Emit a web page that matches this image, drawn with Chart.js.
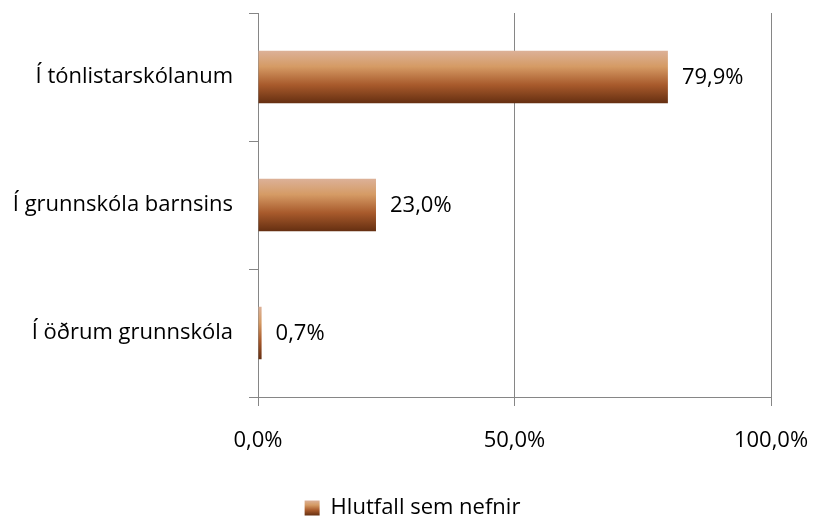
<!DOCTYPE html>
<html>
<head>
<meta charset="utf-8">
<script src="https://cdn.jsdelivr.net/npm/chart.js@4"></script>
<style>
  html, body { margin: 0; padding: 0; background: #fff; }
  #wrap { width: 816px; height: 517px; }
</style>
</head>
<body>
<div id="wrap"><canvas id="chart" width="816" height="517"></canvas></div>
<script>
const categories = ['Í tónlistarskólanum', 'Í grunnskóla barnsins', 'Í öðrum grunnskóla'];
const shares = [79.9, 23.0, 0.7];
const seriesName = 'Hlutfall sem nefnir';
const xTicks = [0, 50, 100];

const FONT = 'Open Sans';
const FONT_SIZE = 22;
const BAR_PCT = 0.41;
const fmt = v => v.toFixed(1).replace('.', ',') + '%';

function barGradient(ctx, top, bottom) {
   const g = ctx.createLinearGradient(0, top, 0, bottom);
   g.addColorStop(0, '#dcb198');
   g.addColorStop(0.3, '#d59b65');
   g.addColorStop(0.65, '#a85a2c');
   g.addColorStop(1, '#652f11');
   return g;
}

// Verlauf fyrir hverja súlu, reiknaður út frá y-ásnum
function barFill(context) {
   const chart = context.chart;
   const y = chart.scales.y;
   if (!y || context.dataIndex === undefined || !y.height) return '#b06a3a';
   const center = y.getPixelForValue(context.dataIndex);
   const half = (y.height / categories.length) * BAR_PCT / 2;
   if (!isFinite(center) || !isFinite(half)) return '#b06a3a';
   return barGradient(chart.ctx, center - half, center + half);
}

const barStyle = {
   id: 'barStyle',
   afterLayout(chart) {
      // færa skýringuna aðeins til hægri og niður
      const lg = chart.legend;
      lg.left += 27; lg.right += 27;
      lg.top += 12; lg.bottom += 12;
   },
   afterDatasetsDraw(chart) {
      const ctx = chart.ctx;
      ctx.save();
      ctx.font = FONT_SIZE + 'px "' + FONT + '"';
      ctx.fillStyle = '#000';
      ctx.textAlign = 'left';
      ctx.textBaseline = 'middle';
      chart.getDatasetMeta(0).data.forEach((bar, i) => {
         ctx.fillText(fmt(shares[i]), bar.x + 14, bar.y + 1);
      });
      ctx.restore();
   },
   beforeDraw(chart) {
      const lg = chart.legend;
      if (!lg || !lg.legendItems.length || !lg.legendHitBoxes.length) return;
      const hb = lg.legendHitBoxes[0];
      const top = hb.top + (hb.height - 15) / 2;
      if (isFinite(top)) lg.legendItems[0].fillStyle = barGradient(chart.ctx, top, top + 15);
   }
};

new Chart(document.getElementById('chart'), {
   type: 'bar',
   data: {
      labels: categories,
      datasets: [{
         label: seriesName,
         data: shares,
         backgroundColor: barFill,
         borderWidth: 0,
         categoryPercentage: 1,
         barPercentage: BAR_PCT
      }]
   },
   options: {
      indexAxis: 'y',
      responsive: false,
      animation: false,
      layout: { padding: { top: 13, right: 45, left: 0, bottom: 0 } },
      scales: {
         x: {
            min: 0,
            max: 100,
            afterBuildTicks: scale => { scale.ticks = xTicks.map(v => ({ value: v })); },
            afterFit: scale => {
               scale.height = 88;
               scale.paddingLeft = 0;
               scale.paddingRight = 0;
            },
            grid: { color: '#868686', lineWidth: 1, tickLength: 9 },
            border: { color: '#868686', width: 1 },
            ticks: {
               color: '#000',
               font: { family: FONT, size: FONT_SIZE },
               padding: 22,
               callback: v => fmt(v)
            }
         },
         y: {
            afterFit: scale => {
               scale.width = 258;
               scale.paddingTop = 0;
               scale.paddingBottom = 0;
            },
            grid: { offset: true, drawOnChartArea: false, color: '#868686', tickLength: 9 },
            border: { color: '#868686', width: 1 },
            ticks: {
               color: '#000',
               font: { family: FONT, size: FONT_SIZE },
               padding: 16
            }
         }
      },
      plugins: {
         legend: {
            position: 'bottom',
            labels: {
               boxWidth: 15,
               boxHeight: 15,
               padding: 0,
               color: '#000',
               font: { family: FONT, size: FONT_SIZE }
            }
         },
         tooltip: { enabled: false }
      }
   },
   plugins: [barStyle]
});
</script>
</body>
</html>
